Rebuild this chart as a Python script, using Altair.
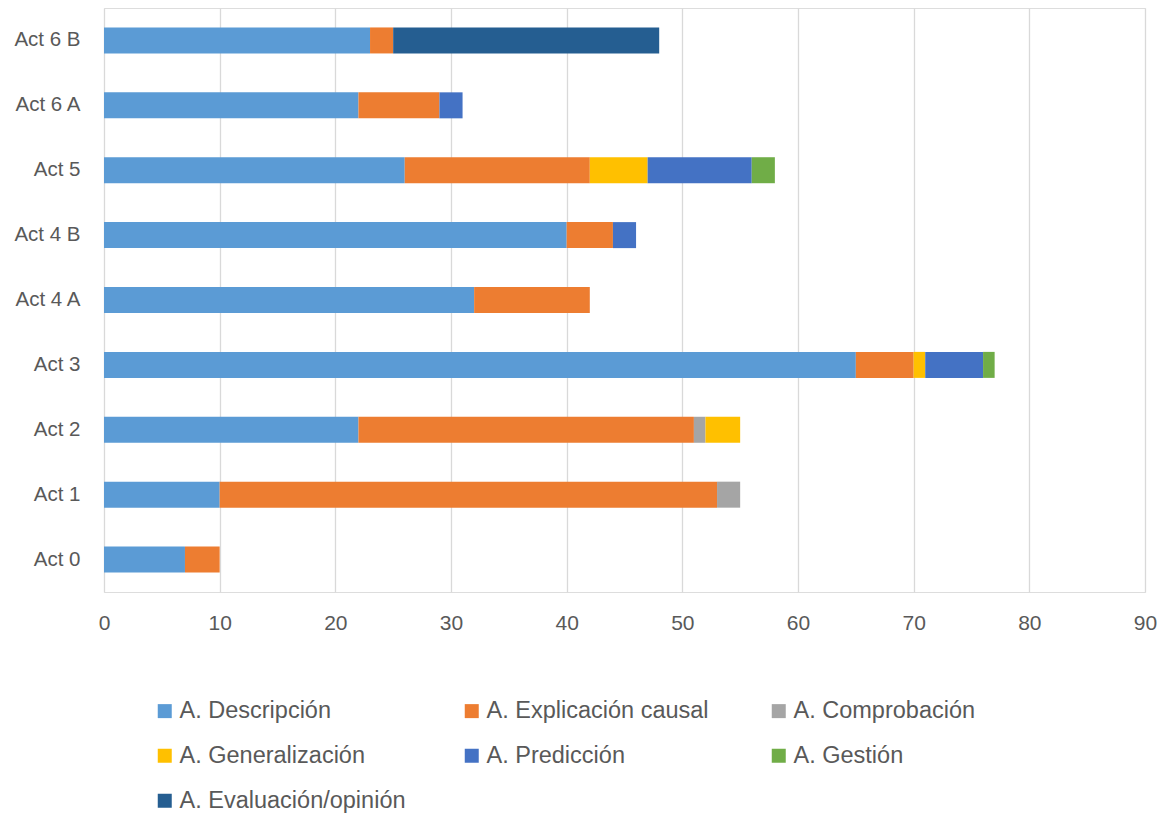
import altair as alt
import pandas as pd

activities = ["Act 6 B", "Act 6 A", "Act 5", "Act 4 B", "Act 4 A",
              "Act 3", "Act 2", "Act 1", "Act 0"]
categories = ["A. Descripción", "A. Explicación causal", "A. Comprobación",
              "A. Generalización", "A. Predicción", "A. Gestión",
              "A. Evaluación/opinión"]
colors = ["#5B9BD5", "#ED7D31", "#A5A5A5", "#FFC000", "#4472C4",
          "#70AD47", "#255E91"]

# counts per activity, one list per category (order follows `activities`)
descripcion = [23, 22, 26, 40, 32, 65, 22, 10, 7]
explicacion = [2, 7, 16, 4, 10, 5, 29, 43, 3]
comprobacion = [0, 0, 0, 0, 0, 0, 1, 2, 0]
generalizacion = [0, 0, 5, 0, 0, 1, 3, 0, 0]
prediccion = [0, 2, 9, 2, 0, 5, 0, 0, 0]
gestion = [0, 0, 2, 0, 0, 1, 0, 0, 0]
evaluacion = [23, 0, 0, 0, 0, 0, 0, 0, 0]

series = [descripcion, explicacion, comprobacion, generalizacion,
          prediccion, gestion, evaluacion]

rows = []
for ci, (cat, vals) in enumerate(zip(categories, series)):
    for act, v in zip(activities, vals):
        if v > 0:
            rows.append({"act": act, "cat": cat, "value": v, "order": ci})
df = pd.DataFrame(rows)

font = "Liberation Sans"
text_color = "#595959"

chart = alt.Chart(df).mark_bar(size=26).encode(
    y=alt.Y("act:N", sort=activities, title=None,
            axis=alt.Axis(domain=False, ticks=False, labelPadding=24,
                          labelFontSize=20.5, labelColor=text_color,
                          labelFont=font, grid=False),
            scale=alt.Scale(paddingInner=0.6, paddingOuter=0.3)),
    x=alt.X("value:Q", stack="zero", title=None,
            scale=alt.Scale(domain=[0, 90], nice=False),
            axis=alt.Axis(values=list(range(0, 100, 10)), domain=False,
                          ticks=False, labelPadding=20, labelFontSize=21,
                          labelFlush=False,
                          labelColor=text_color, labelFont=font,
                          gridColor="#D9D9D9", gridWidth=1.3)),
    color=alt.Color("cat:N",
                    scale=alt.Scale(domain=categories, range=colors),
                    legend=alt.Legend(title=None, orient="none",
                                      direction="horizontal",
                                      legendX=49, legendY=691,
                                      columns=3, gridAlign="all",
                                      columnPadding=54, rowPadding=20,
                                      symbolType="square", symbolSize=196,
                                      symbolStrokeWidth=0, labelOffset=3,
                                      labelFontSize=23.5, labelColor=text_color,
                                      labelFont=font, labelLimit=400)),
    order=alt.Order("order:Q", sort="ascending"),
).properties(
    width=1041, height=584,
    autosize=alt.AutoSizeParams(type="none"),
    padding={"left": 104, "top": 8, "right": 13, "bottom": 223},
).configure_view(stroke=None).configure(background="white")

chart.save("out.html", embed_options={"renderer": "svg", "actions": False})
